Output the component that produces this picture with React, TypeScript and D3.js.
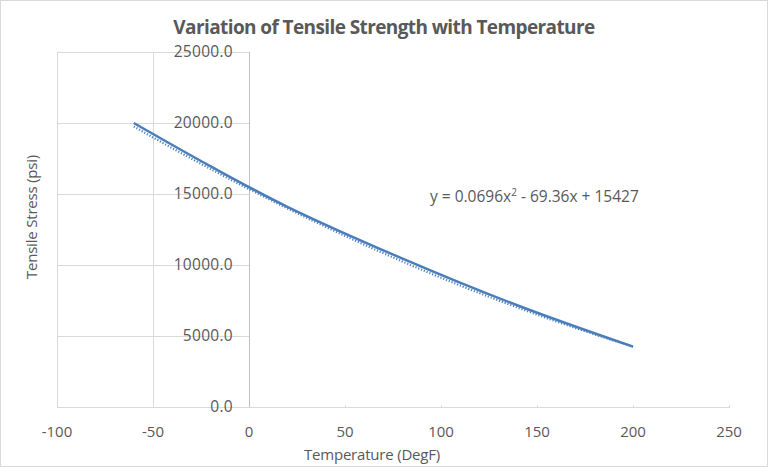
import React from "react";
import * as d3 from "d3";

const temps = [-60, -20, 20, 80, 140, 200];
const strength = [20000, 16950, 14100, 10450, 7150, 4250];
const xTicks = [-100, -50, 0, 50, 100, 150, 200, 250];
const yTicks = [0, 5000, 10000, 15000, 20000, 25000];
const trendCoef = [0.0696, -69.36, 15427];

const W = 768;
const H = 467;

export default function App() {
  const x = d3.scaleLinear().domain([-100, 250]).range([57, 729]);
  const y = d3.scaleLinear().domain([0, 25000]).range([407, 52]);
  const data = temps.map((t, i) => [t, strength[i]] as [number, number]);
  const line = d3
    .line<[number, number]>()
    .x((d) => x(d[0]))
    .y((d) => y(d[1]))
    .curve(d3.curveCatmullRom.alpha(0.5));
  const trendPts: [number, number][] = d3
    .range(-60, 200.01, 2)
    .map((t) => [t, trendCoef[0] * t * t + trendCoef[1] * t + trendCoef[2]]);
  const trendLine = d3
    .line<[number, number]>()
    .x((d) => x(d[0]))
    .y((d) => y(d[1]) + 1.2);
  const grid = "#d9d9d9";
  const txt = "#595959";
  const font = "'Open Sans', 'Liberation Sans', sans-serif";
  return (
    <svg
      width={W}
      height={H}
      style={{ position: "absolute", left: 0, top: 0, display: "block", background: "#fff" }}
      fontFamily={font}
    >
      <rect x={0.5} y={0.5} width={W - 1} height={H - 1} fill="#fff" stroke="#d9d9d9" />
      <text x={384} y={34} textAnchor="middle" fontSize={19} fontWeight="bold" fill={txt} letterSpacing={-0.6}>
        Variation of Tensile Strength with Temperature
      </text>
      {yTicks.map((v) => (
        <line key={"hg" + v} x1={x(-100)} x2={x(0)} y1={Math.round(y(v)) + 0.5} y2={Math.round(y(v)) + 0.5} stroke={grid} />
      ))}
      {[-100, -50].map((v) => (
        <line key={"vg" + v} x1={Math.round(x(v)) + 0.5} x2={Math.round(x(v)) + 0.5} y1={y(25000)} y2={y(0)} stroke={grid} />
      ))}
      <line x1={x(-100)} x2={x(250)} y1={Math.round(y(0)) + 0.5} y2={Math.round(y(0)) + 0.5} stroke={grid} />
      {xTicks.map((v) => (
        <line key={"xt" + v} x1={Math.round(x(v)) + 0.5} x2={Math.round(x(v)) + 0.5} y1={y(0) - 2} y2={y(0) + 1} stroke={grid} />
      ))}
      <line x1={Math.round(x(0)) + 0.5} x2={Math.round(x(0)) + 0.5} y1={y(25000)} y2={y(0)} stroke="#bfbfbf" />
      {yTicks.map((v) => (
        <text key={"yl" + v} x={233} y={y(v) + 5} textAnchor="end" fontSize={15.5} fill={txt} letterSpacing={0.3}>
          {v.toFixed(1)}
        </text>
      ))}
      {xTicks.map((v) => (
        <text key={"xl" + v} x={x(v)} y={437} textAnchor="middle" fontSize={15} fill={txt}>
          {v}
        </text>
      ))}
      <text x={372} y={460} textAnchor="middle" fontSize={15} fill={txt} letterSpacing={-0.2}>
        Temperature (DegF)
      </text>
      <text
        transform={`translate(37,217) rotate(-90)`}
        textAnchor="middle"
        fontSize={15}
        fill={txt}
        letterSpacing={-0.2}
      >
        Tensile Stress (psi)
      </text>
      <path d={trendLine(trendPts) || ""} fill="none" stroke="#4f81bd" strokeWidth={2.2} strokeDasharray="1.2,1.8" />
      <path d={line(data) || ""} fill="none" stroke="#4a7ebb" strokeWidth={2.5} />
      <text x={430} y={202} fontSize={15.5} fill={txt}>
        y = 0.0696x<tspan dy={-6} fontSize={10}>2</tspan>
        <tspan dy={6}> - 69.36x + 15427</tspan>
      </text>
    </svg>
  );
}
